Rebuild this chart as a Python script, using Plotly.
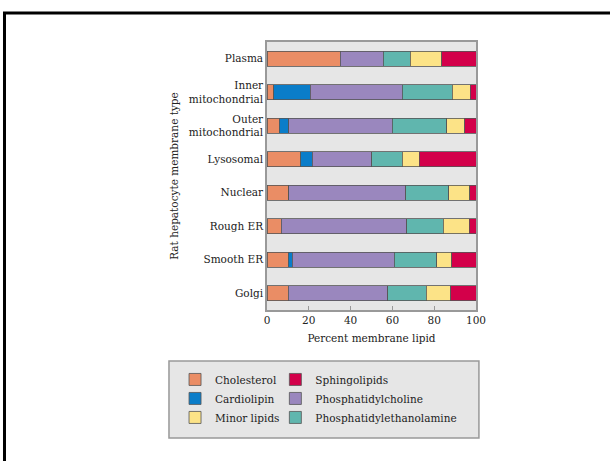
import plotly.graph_objects as go

categories = ["Plasma", "Inner<br>mitochondrial", "Outer<br>mitochondrial", "Lysosomal",
              "Nuclear", "Rough ER", "Smooth ER", "Golgi"]

cholesterol = [35.1, 3.2, 5.8, 16.1, 10.5, 6.9, 10.2, 10.2]
cardiolipin = [0, 17.6, 4.5, 5.6, 0, 0, 1.9, 0]
phosphatidylcholine = [20.5, 43.8, 49.7, 28.3, 55.8, 60.0, 48.9, 47.6]
phosphatidylethanolamine = [12.9, 24.0, 26.0, 14.7, 20.6, 17.4, 20.3, 18.4]
minor_lipids = [15.2, 8.6, 8.5, 8.1, 10.1, 12.5, 7.0, 11.7]
sphingolipids = [16.3, 2.9, 5.6, 27.2, 3.0, 3.2, 11.7, 12.1]

x_ticks = [0, 20, 40, 60, 80, 100]

series = [
    ("Cholesterol", cholesterol, "#EA8D65", "legend", 1),
    ("Cardiolipin", cardiolipin, "#0A7DC9", "legend", 2),
    ("Phosphatidylcholine", phosphatidylcholine, "#9A87BE", "legend2", 2),
    ("Phosphatidylethanolamine", phosphatidylethanolamine, "#60B6AE", "legend2", 3),
    ("Minor lipids", minor_lipids, "#FCE387", "legend", 3),
    ("Sphingolipids", sphingolipids, "#D3004A", "legend2", 1),
]

FONT = "DejaVu Serif"
fig = go.Figure()
for name, vals, col, leg, rank in series:
    fig.add_trace(go.Bar(
        y=categories, x=vals, name=name, orientation="h",
        marker=dict(color=col, line=dict(color="#555555", width=0.8)),
        legend=leg, legendrank=rank, width=0.45,
    ))

fig.update_layout(
    barmode="stack",
    width=610, height=461,
    margin=dict(l=267, r=134, t=42, b=151),
    paper_bgcolor="white",
    plot_bgcolor="#E6E6E6",
    font=dict(family=FONT, size=10.5, color="#222222"),
    showlegend=True,
    legend=dict(orientation="v", x=-0.440, xanchor="left", y=-0.205, yanchor="top",
                bgcolor="rgba(0,0,0,0)", font=dict(family=FONT, size=10.5, color="#222"),
                traceorder="normal", tracegroupgap=0),
    legend2=dict(orientation="v", x=0.040, xanchor="left", y=-0.205, yanchor="top",
                 bgcolor="rgba(0,0,0,0)", font=dict(family=FONT, size=10.5, color="#222"),
                 traceorder="normal", tracegroupgap=0),
    shapes=[
        # legend box
        dict(type="rect", xref="paper", yref="paper", x0=-0.469, x1=1.014, y0=-0.190, y1=-0.478,
             fillcolor="#E6E6E6", line=dict(color="#999999", width=1.5), layer="below"),
        # outer frame
        dict(type="rect", xref="paper", yref="paper", x0=-1.256, x1=1.75, y0=1.108, y1=-0.65,
             fillcolor="rgba(0,0,0,0)", line=dict(color="black", width=3), layer="above"),
    ],
)

fig.update_xaxes(
    range=[0, 100], tickvals=x_ticks, ticktext=[str(v) for v in x_ticks],
    showgrid=False, zeroline=False,
    showline=True, linecolor="#999999", linewidth=1.5, mirror=True,
    ticks="inside", ticklen=4, tickcolor="#999999", tickwidth=1,
    tickfont=dict(family=FONT, size=10.5, color="#222"),
    title=dict(text="Percent membrane lipid", font=dict(family=FONT, size=10.5, color="#222"), standoff=9),
)
fig.update_yaxes(
    categoryorder="array", categoryarray=categories[::-1],
    range=[-0.5, 7.5],
    showgrid=False, zeroline=False,
    showline=True, linecolor="#999999", linewidth=1.5, mirror=True,
    ticks="", tickfont=dict(family=FONT, size=10.5, color="#222"),
    title=dict(text="Rat hepatocyte membrane type", font=dict(family=FONT, size=10.5, color="#222"), standoff=8),
)

fig.write_html("out.html", config={"displayModeBar": False},
               post_script="document.body.style.margin='0';document.body.style.overflow='hidden';")
